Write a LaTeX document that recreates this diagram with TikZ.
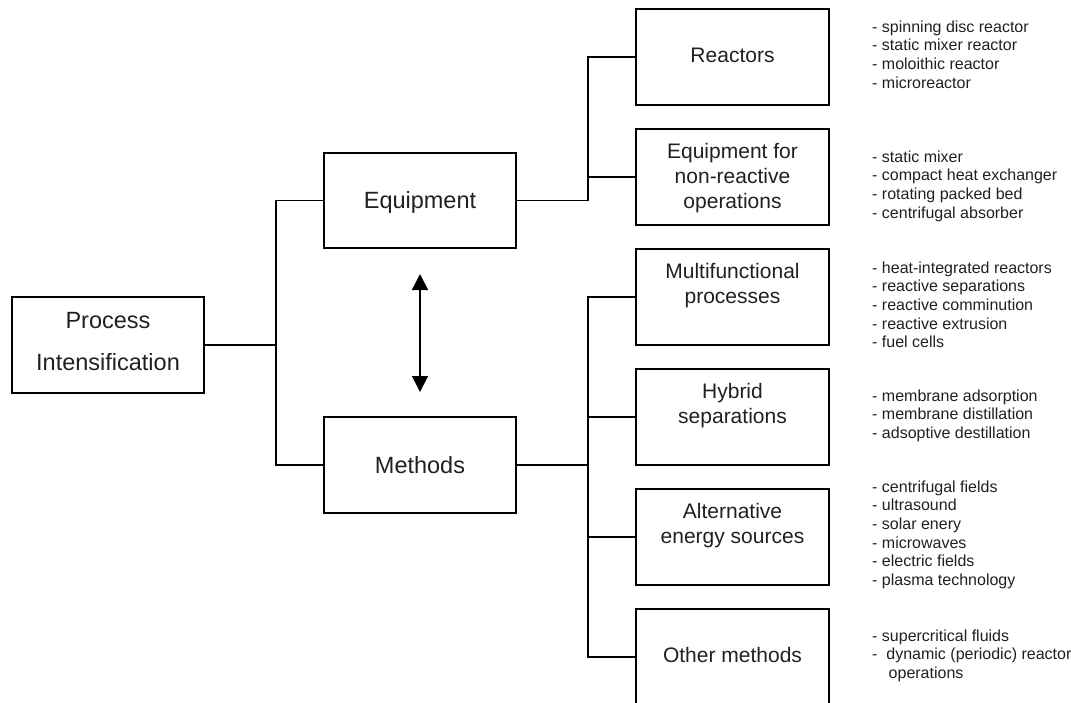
\documentclass[tikz,border=0pt]{standalone}
\usepackage{fontspec}
\setmainfont{Liberation Sans}
\usetikzlibrary{arrows.meta}
\definecolor{txt}{RGB}{35,31,32}
\begin{document}
\begin{tikzpicture}[x=1pt,y=-1pt,
  box/.style={draw=black,line width=1.5pt,rectangle,inner sep=0pt,minimum width=192pt,minimum height=96pt},
  rbox/.style={box,minimum width=193pt},
  conn/.style={draw=black,line width=1.5pt},
  lbig/.style={anchor=base,inner sep=0pt,text=txt,font=\fontsize{23.5}{25}\selectfont},
  lmid/.style={anchor=base,inner sep=0pt,text=txt,font=\fontsize{21}{25}\selectfont},
  lst/.style={anchor=base west,inner sep=0pt,text=txt,font=\fontsize{16}{18.7}\selectfont},
  dblarrow/.style={line width=1.5pt,{Triangle[width=16pt,length=16pt]}-{Triangle[width=16pt,length=16pt]}}
]
\useasboundingbox (0,0) rectangle (1071,702);
% boxes
\node[box] (pi) at (108,345) {};
\node[box,minimum height=95pt] (eq) at (420,200.5) {};
\node[box] (me) at (420,465) {};
\node[rbox] (re) at (732.5,57) {};
\node[rbox] (enr) at (732.5,177) {};
\node[rbox] (mf) at (732.5,297) {};
\node[rbox] (hy) at (732.5,417) {};
\node[rbox] (al) at (732.5,537) {};
\node[rbox] (ot) at (732.5,657) {};
% labels
\node[lbig] (piA) at (108,328) {Process};
\node[lbig] (piB) at (108,370) {Intensification};
\node[lbig] (eqL) at (420,208) {Equipment};
\node[lbig] (meL) at (420,473) {Methods};
\node[lmid] (reL) at (732.5,62) {Reactors};
\node[lmid] (enrA) at (732.5,158) {Equipment for};
\node[lmid] (enrB) at (732.5,183) {non-reactive};
\node[lmid] (enrC) at (732.5,208) {operations};
\node[lmid] (mfA) at (732.5,278) {Multifunctional};
\node[lmid] (mfB) at (732.5,303) {processes};
\node[lmid] (hyA) at (732.5,398) {Hybrid};
\node[lmid] (hyB) at (732.5,423) {separations};
\node[lmid] (alA) at (732.5,518) {Alternative};
\node[lmid] (alB) at (732.5,543) {energy sources};
\node[lmid] (otL) at (732.5,662) {Other methods};
% lists
\node[lst] (l1) at (872,32) {\begin{tabular}[t]{@{}l@{}}- spinning disc reactor\\- static mixer reactor\\- moloithic reactor\\- microreactor\end{tabular}};
\node[lst] (l2) at (872,162) {\begin{tabular}[t]{@{}l@{}}- static mixer\\- compact heat exchanger\\- rotating packed bed\\- centrifugal absorber\end{tabular}};
\node[lst] (l3) at (872,273) {\begin{tabular}[t]{@{}l@{}}- heat-integrated reactors\\- reactive separations\\- reactive comminution\\- reactive extrusion\\- fuel cells\end{tabular}};
\node[lst] (l4) at (872,401) {\begin{tabular}[t]{@{}l@{}}- membrane adsorption\\- membrane distillation\\- adsoptive destillation\end{tabular}};
\node[lst] (l5) at (872,492) {\begin{tabular}[t]{@{}l@{}}- centrifugal fields\\- ultrasound\\- solar enery\\- microwaves\\- electric fields\\- plasma technology\end{tabular}};
\node[lst] (l6) at (872,641) {\begin{tabular}[t]{@{}l@{}}- supercritical fluids\\-~~dynamic (periodic) reactor\\\hspace{16.5pt}operations\end{tabular}};
% connectors
\coordinate (j1) at (276,345);
\coordinate (j2) at (588,200.5);
\coordinate (j3) at (588,465);
\draw[conn] (pi.east) -- (j1);
\draw[conn] (eq.west) -| (j1) |- (me.west);
\draw[conn] (eq.east) -- (j2);
\draw[conn] (re.west) -| (j2);
\draw[conn] (enr.west) -| (j2);
\draw[conn] (me.east) -- (j3);
\draw[conn] (mf.west) -| (j3);
\draw[conn] (hy.west) -| (j3);
\draw[conn] (al.west) -| (j3);
\draw[conn] (ot.west) -| (j3);
% double arrow
\coordinate (aT) at (420,274);
\coordinate (aB) at (420,392);
\draw[dblarrow] (aT) -- (aB);
\end{tikzpicture}
\end{document}
